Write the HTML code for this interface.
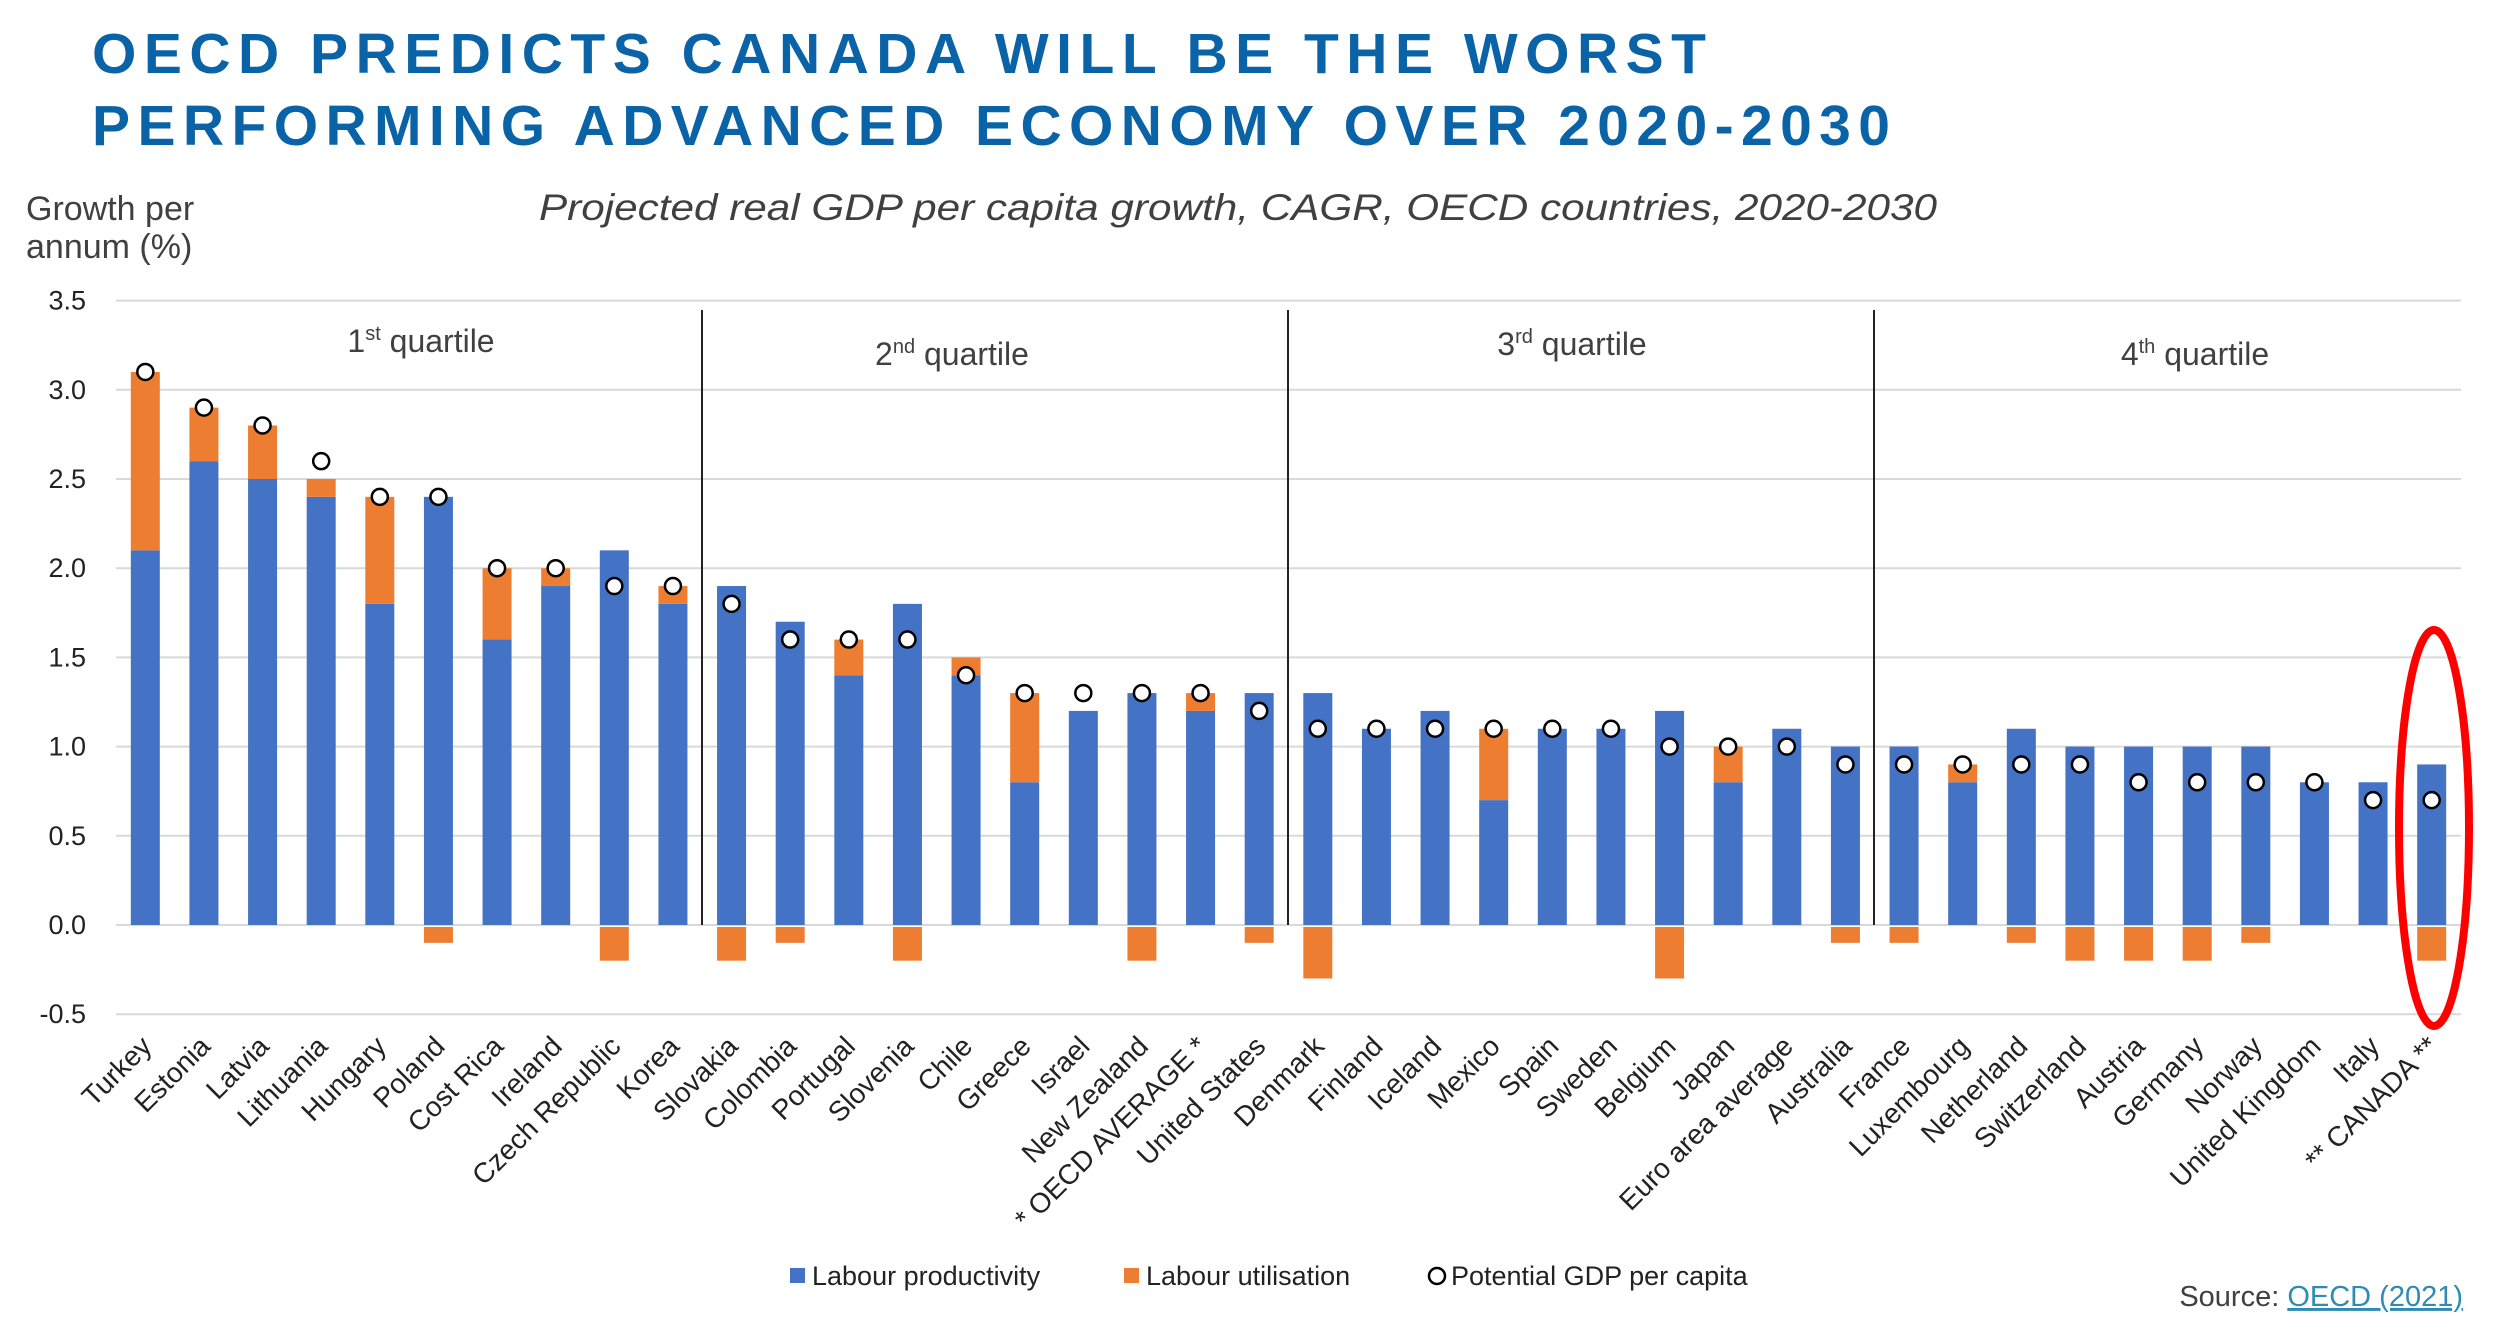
<!DOCTYPE html>
<html><head><meta charset="utf-8"><style>
html,body{margin:0;padding:0;background:#fff;}
svg{display:block;font-family:"Liberation Sans",sans-serif;}
</style></head><body>
<svg id="chart" width="2500" height="1343" viewBox="0 0 2500 1343" xmlns="http://www.w3.org/2000/svg">
<text x="92" y="73" font-size="57" font-weight="bold" fill="#0a63a6" textLength="1614" lengthAdjust="spacing">OECD PREDICTS CANADA WILL BE THE WORST</text>
<text x="92" y="145" font-size="57" font-weight="bold" fill="#0a63a6" textLength="1798" lengthAdjust="spacing">PERFORMING ADVANCED ECONOMY OVER 2020-2030</text>
<text x="26" y="220" font-size="34" fill="#404040">Growth per</text>
<text x="26" y="258" font-size="34" fill="#404040">annum (%)</text>
<text x="539" y="220" font-size="37" font-style="italic" fill="#404040" textLength="1398" lengthAdjust="spacingAndGlyphs">Projected real GDP per capita growth, CAGR, OECD countries, 2020-2030</text>
<g id="grid"></g><g id="bars"></g><g id="dots"></g><g id="labels"></g>
<line x1="702" y1="310" x2="702" y2="925" stroke="#222" stroke-width="2"/>
<line x1="1288" y1="310" x2="1288" y2="925" stroke="#222" stroke-width="2"/>
<line x1="1874" y1="310" x2="1874" y2="925" stroke="#222" stroke-width="2"/>
<text x="421" y="352" font-size="32" fill="#404040" text-anchor="middle">1<tspan font-size="20" dy="-12">st</tspan><tspan dy="12"> quartile</tspan></text>
<text x="952" y="365" font-size="32" fill="#404040" text-anchor="middle">2<tspan font-size="20" dy="-12">nd</tspan><tspan dy="12"> quartile</tspan></text>
<text x="1572" y="355" font-size="32" fill="#404040" text-anchor="middle">3<tspan font-size="20" dy="-12">rd</tspan><tspan dy="12"> quartile</tspan></text>
<text x="2195" y="365" font-size="32" fill="#404040" text-anchor="middle">4<tspan font-size="20" dy="-12">th</tspan><tspan dy="12"> quartile</tspan></text>
<ellipse cx="2434" cy="828" rx="35" ry="198" fill="none" stroke="#ff0000" stroke-width="8"/>
<g>
<rect x="790" y="1268" width="15" height="15" fill="#4472c4"/>
<text x="812" y="1285" font-size="27" fill="#222">Labour productivity</text>
<rect x="1124" y="1268" width="15" height="15" fill="#ed7d31"/>
<text x="1146" y="1285" font-size="27" fill="#222">Labour utilisation</text>
<circle cx="1437" cy="1276" r="8" fill="#fff" stroke="#000" stroke-width="2.5"/>
<text x="1451" y="1285" font-size="27" fill="#222">Potential GDP per capita</text>
</g>
<text x="2463" y="1306" font-size="29" fill="#404040" text-anchor="end">Source: <tspan fill="#2e8bb5" text-decoration="underline">OECD (2021)</tspan></text>
</svg>
<script>
const categories=["Turkey","Estonia","Latvia","Lithuania","Hungary","Poland","Cost Rica","Ireland","Czech Republic","Korea","Slovakia","Colombia","Portugal","Slovenia","Chile","Greece","Israel","New Zealand","* OECD AVERAGE *","United States","Denmark","Finland","Iceland","Mexico","Spain","Sweden","Belgium","Japan","Euro area average","Australia","France","Luxembourg","Netherland","Switzerland","Austria","Germany","Norway","United Kingdom","Italy","** CANADA **"];
const productivity=[2.1,2.6,2.5,2.4,1.8,2.4,1.6,1.9,2.1,1.8,1.9,1.7,1.4,1.8,1.4,0.8,1.2,1.3,1.2,1.3,1.3,1.1,1.2,0.7,1.1,1.1,1.2,0.8,1.1,1.0,1.0,0.8,1.1,1.0,1.0,1.0,1.0,0.8,0.8,0.9];
const utilisation=[1.0,0.3,0.3,0.1,0.6,-0.1,0.4,0.1,-0.2,0.1,-0.2,-0.1,0.2,-0.2,0.1,0.5,0,-0.2,0.1,-0.1,-0.3,0,0,0.4,0,0,-0.3,0.2,0,-0.1,-0.1,0.1,-0.1,-0.2,-0.2,-0.2,-0.1,0,0,-0.2];
const potential=[3.1,2.9,2.8,2.6,2.4,2.4,2.0,2.0,1.9,1.9,1.8,1.6,1.6,1.6,1.4,1.3,1.3,1.3,1.3,1.2,1.1,1.1,1.1,1.1,1.1,1.1,1.0,1.0,1.0,0.9,0.9,0.9,0.9,0.9,0.8,0.8,0.8,0.8,0.7,0.7];
const yTicks=[-0.5,0,0.5,1,1.5,2,2.5,3,3.5];
const NS="http://www.w3.org/2000/svg";
const L=116,R=2461,Y0=925,PER=178.4;
const step=(R-L)/categories.length, bw=29;
function y(v){return Y0-v*PER;}
function cx(i){return L+step*(i+0.5);}
function mk(t,a,p){const e=document.createElementNS(NS,t);for(const k in a)e.setAttribute(k,a[k]);p.appendChild(e);return e;}
const grid=document.getElementById('grid'),bars=document.getElementById('bars'),dots=document.getElementById('dots'),labels=document.getElementById('labels');
yTicks.forEach(t=>{
  const g=mk('line',{x1:L,x2:R,y1:y(t),y2:y(t),stroke:'#d9d9d9','stroke-width':2},grid);
  
  
  const tx=mk('text',{x:86,y:y(t)+9,'font-size':27,fill:'#222','text-anchor':'end'},grid);
  tx.textContent=t.toFixed(1);
  
  
});
categories.forEach((c,i)=>{
  const x=cx(i)-bw/2, p=productivity[i], u=utilisation[i];
  const b=mk('rect',{x:x,y:y(p),width:bw,height:y(0)-y(p),fill:'#4472c4'},bars);
  
  
  if(u>0){
    const o=mk('rect',{x:x,y:y(p+u),width:bw,height:y(p)-y(p+u),fill:'#ed7d31'},bars);
    
    
  } else if(u<0){
    const o=mk('rect',{x:x,y:y(0)+2,width:bw,height:y(u)-y(0)-2,fill:'#ed7d31'},bars);
    
    
  }
  const d=mk('circle',{cx:cx(i),cy:y(potential[i]),r:8,fill:'#fff',stroke:'#000','stroke-width':2.5},dots);
  
  
  const ax=cx(i)+8, ay=1048;
  const t=mk('text',{x:ax,y:ay,'font-size':28,fill:'#222','text-anchor':'end',transform:`rotate(-45 ${ax} ${ay})`},labels);
  t.textContent=c;
  
  
});
</script>
</body></html>
